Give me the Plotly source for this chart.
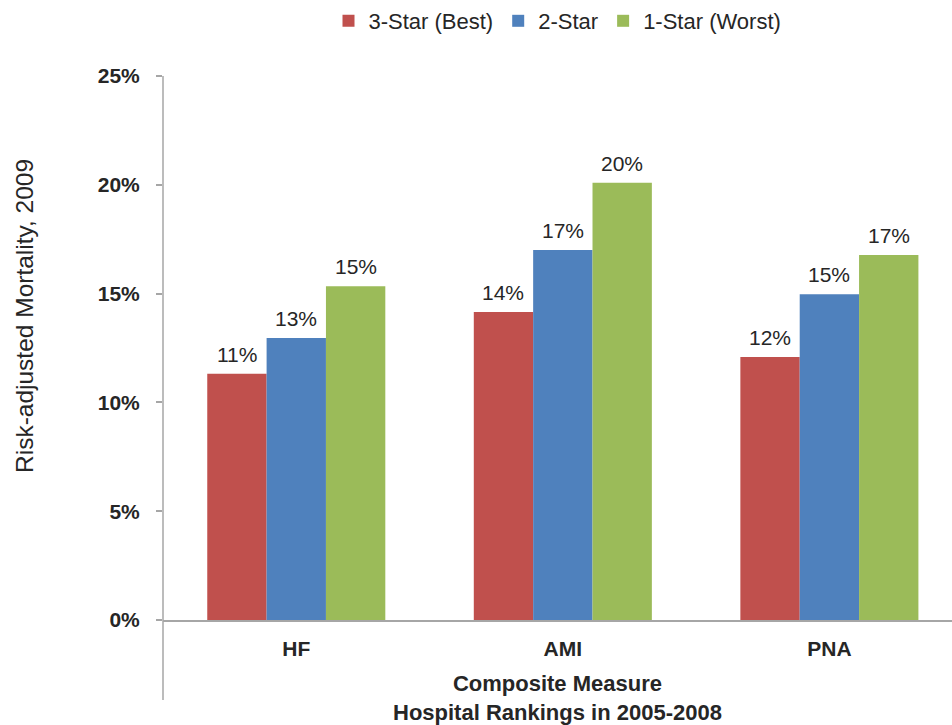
import plotly.graph_objects as go

categories = ["HF", "AMI", "PNA"]
series_names = ["3-Star (Best)", "2-Star", "1-Star (Worst)"]
three_star = [0.1132, 0.1416, 0.1209]
two_star = [0.1296, 0.1700, 0.1497]
one_star = [0.1534, 0.2009, 0.1677]
colors = ["#C0504D", "#4F81BD", "#9BBB59"]
y_ticks = [0, 0.05, 0.10, 0.15, 0.20, 0.25]

FONT = "Liberation Sans, Arial, sans-serif"
AXIS_GRAY = "#A6A6A6"
TEXT = "#262626"

W, H = 952, 725
ML, MR, MT, MB = 163, 0, 76, 105
X_RANGE = [-0.5, 2.46]
BARGAP = 0.332
plot_w = W - ML - MR
plot_h = H - MT - MB
px_per_cat = plot_w / (X_RANGE[1] - X_RANGE[0])
bar_px = px_per_cat * (1 - BARGAP) / 3

fig = go.Figure()
annotations = []
all_series = [three_star, two_star, one_star]
for i, (name, vals, col) in enumerate(zip(series_names, all_series, colors)):
    fig.add_trace(go.Bar(
        x=categories, y=vals, name=name,
        marker=dict(color=col, line=dict(width=0)),
    ))
    for cat, v in zip(categories, vals):
        annotations.append(dict(
            x=cat, y=v, xref="x", yref="y", text=f"{v:.0%}",
            showarrow=False, xanchor="center", yanchor="bottom",
            xshift=(i - 1) * bar_px, yshift=6,
            font=dict(family=FONT, size=21, color=TEXT),
        ))

annotations += [
    dict(text="<b>Composite Measure<br>Hospital Rankings in 2005-2008</b>",
         xref="paper", yref="paper", x=0.5, y=(plot_h - (698 - MT)) / plot_h,
         xanchor="center", yanchor="middle", showarrow=False,
         font=dict(family=FONT, size=22, color=TEXT)),
    dict(text="Risk-adjusted Mortality, 2009", textangle=-90,
         xref="paper", yref="paper", x=-(ML - 24) / plot_w, y=(plot_h - (316 - MT)) / plot_h,
         xanchor="center", yanchor="middle", showarrow=False,
         font=dict(family=FONT, size=24.5, color=TEXT)),
]

fig.update_layout(
    width=W, height=H, autosize=False,
    margin=dict(l=ML, r=MR, t=MT, b=MB),
    paper_bgcolor="white", plot_bgcolor="white",
    barmode="group", bargap=BARGAP, bargroupgap=0,
    font=dict(family=FONT, color=TEXT),
    showlegend=True,
    legend=dict(
        orientation="h", x=0.5, xanchor="center",
        yref="container", y=1.0, yanchor="top",
        font=dict(family=FONT, size=22, color=TEXT),
        itemwidth=30, traceorder="normal",
    ),
    annotations=annotations,
    shapes=[
        dict(type="line", xref="paper", yref="paper", x0=0, x1=0,
             y0=(plot_h - (700 - MT)) / plot_h, y1=1,
             line=dict(color=AXIS_GRAY, width=1.5)),
    ],
)

fig.update_xaxes(
    range=X_RANGE, showgrid=False, zeroline=False,
    showline=True, linecolor=AXIS_GRAY, linewidth=1.5,
    ticks="", ticklabelstandoff=9,
    tickfont=dict(family=FONT, size=21, color=TEXT, weight="bold"),
)
fig.update_yaxes(
    range=[0, 0.25], tickvals=y_ticks, tickformat=".0%",
    showgrid=False, zeroline=False, showline=False,
    ticks="outside", ticklen=6, tickcolor=AXIS_GRAY, tickwidth=1.5,
    ticklabelstandoff=12,
    tickfont=dict(family=FONT, size=21, color=TEXT, weight="bold"),
)

fig.write_html("out.html")
